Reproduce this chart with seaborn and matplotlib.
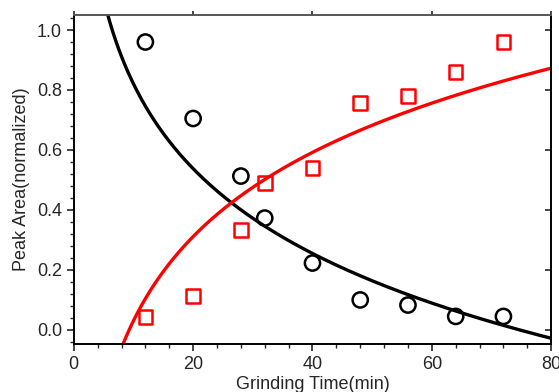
import numpy as np
import pandas as pd
import seaborn as sns
import matplotlib.pyplot as plt
from matplotlib.ticker import MultipleLocator

# measured points
grind_time = [12, 20, 28, 32, 40, 48, 56, 64, 72]
peak_black = [0.96, 0.705, 0.513, 0.373, 0.223, 0.10, 0.083, 0.045, 0.045]
peak_red = [0.043, 0.113, 0.333, 0.49, 0.54, 0.757, 0.78, 0.86, 0.96]

# logarithmic fits y = a + b*ln(t)
fit_black = (1.76, -0.408)
fit_red = (-0.902, 0.405)

sns.set_style('ticks')
plt.rcParams['font.family'] = ['Liberation Sans', 'DejaVu Sans']

pts = pd.DataFrame({'t': grind_time, 'black': peak_black, 'red': peak_red})
t = np.linspace(5, 80, 300)
fit = pd.DataFrame({'t': t,
                    'black': fit_black[0] + fit_black[1] * np.log(t),
                    'red': fit_red[0] + fit_red[1] * np.log(t)})

fig = plt.figure(figsize=(5.59, 3.92), dpi=100)
ax = fig.add_axes([0.132, 0.1224, 0.854, 0.8393])

sns.lineplot(data=fit, x='t', y='black', color='black', linewidth=2.4, ax=ax)
sns.lineplot(data=fit, x='t', y='red', color='#ff0000', linewidth=2.4, ax=ax)
sns.scatterplot(data=pts, x='t', y='black', marker='o', s=120,
                facecolor='none', edgecolor='black', linewidth=1.8, ax=ax)
sns.scatterplot(data=pts, x='t', y='red', marker='s', s=95,
                facecolor='none', edgecolor='#ff0000', linewidth=1.8, ax=ax)

ax.set_xlim(0, 80)
ax.set_ylim(-0.047, 1.05)
ax.xaxis.set_major_locator(MultipleLocator(20))
ax.xaxis.set_minor_locator(MultipleLocator(4))
ax.yaxis.set_major_locator(MultipleLocator(0.2))
ax.yaxis.set_minor_locator(MultipleLocator(0.04))
ax.yaxis.set_major_formatter(plt.FormatStrFormatter('%.1f'))
ax.tick_params(which='major', length=5, width=1.2, labelsize=13, direction='out')
ax.tick_params(which='minor', length=3, width=1.0, direction='out')

# short mirrored ticks on top (outward) and right (inward), no labels
ax.tick_params(axis='x', which='major', top=True, labeltop=False)
for tk in ax.xaxis.get_major_ticks():
    tk.tick2line.set_markersize(3)
    tk.tick2line.set_color('#555555')
ax.tick_params(axis='y', which='major', right=True, labelright=False)
for tk in ax.yaxis.get_major_ticks():
    tk.tick2line.set_marker(0)  # points inward from the right spine
    tk.tick2line.set_markersize(4)
for s in ['left', 'bottom', 'right']:
    ax.spines[s].set_linewidth(1.4)
    ax.spines[s].set_color('black')
ax.spines['top'].set_linewidth(1.4)
ax.spines['top'].set_color('#555555')

ax.set_xlabel('Grinding Time(min)', fontsize=13, labelpad=2)
ax.set_ylabel('Peak Area(normalized)', fontsize=13, labelpad=5)

fig.savefig('out.png', dpi=100)
